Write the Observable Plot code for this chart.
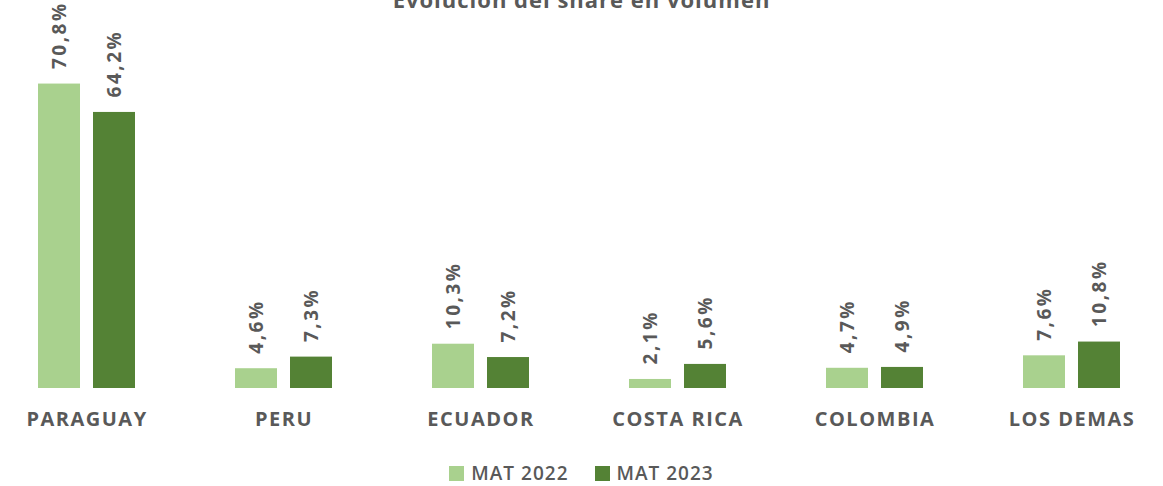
<!DOCTYPE html>
<html>
<head>
<meta charset="utf-8">
<script src="https://cdn.jsdelivr.net/npm/d3@7"></script>
<script src="https://cdn.jsdelivr.net/npm/@observablehq/plot@0.6"></script>
<style>
  html, body { margin: 0; padding: 0; background: #fff; overflow: hidden; }
  body { width: 1163px; height: 486px; position: relative; font-family: "Open Sans", sans-serif; color: #595959; }
  #title { position: absolute; top: -13px; left: 0; width: 1163px; text-align: center; font-size: 22px; font-weight: 700; line-height: 24px; color: #595959; letter-spacing: 1px; z-index: 2; }
  #chart { position: absolute; top: 0; left: 0; z-index: 1; }
  #chart g.vlabels text { letter-spacing: 2.5px; }
  #chart g.ticklabels text { letter-spacing: 1.5px; }
  #legend { position: absolute; top: 460px; left: 0; width: 1163px; text-align: center; font-size: 19px; font-weight: 600; color: #595959; letter-spacing: 1px; }
  #legend span.item { display: inline-flex; align-items: center; margin: 0 13px; }
  #legend span.sw { display: inline-block; width: 15px; height: 15px; margin-right: 7px; }
</style>
</head>
<body>
<div id="title">Evolución del share en volumen</div>
<div id="chart"></div>
<div id="legend"></div>
<script>
const countries = ["PARAGUAY", "PERU", "ECUADOR", "COSTA RICA", "COLOMBIA", "LOS DEMAS"];
const series = ["MAT 2022", "MAT 2023"];
const mat2022 = [70.8, 4.6, 10.3, 2.1, 4.7, 7.6];
const mat2023 = [64.2, 7.3, 7.2, 5.6, 4.9, 10.8];
const colors = ["#A9D18E", "#548235"];

const data = [];
countries.forEach((c, i) => {
  data.push({country: c, series: series[0], value: mat2022[i]});
  data.push({country: c, series: series[1], value: mat2023[i]});
});
const fmt = v => v.toFixed(1).replace(".", ",") + "%";

const chart = Plot.plot({
  width: 1163,
  height: 440,
  marginLeft: 0,
  marginRight: 4,
  marginTop: 44,
  marginBottom: 52,
  style: {fontFamily: "'Open Sans', sans-serif", color: "#595959", background: "transparent", overflow: "visible"},
  fx: {domain: countries, paddingInner: 0.497, paddingOuter: 0.185, label: null, axis: null},
  x: {domain: series, paddingInner: 0.23, paddingOuter: 0, axis: null},
  y: {domain: [0, 80], axis: null},
  color: {domain: series, range: colors},
  marks: [
    Plot.barY(data, {fx: "country", x: "series", y: "value", fill: "series"}),
    Plot.text(data, {fx: "country", x: "series", y: "value", text: d => fmt(d.value), rotate: -90, textAnchor: "start", dy: -15, fontSize: 19, fontWeight: 700, fill: "#595959", className: "vlabels"}),
    Plot.axisFx({anchor: "bottom", tickSize: 0, tickPadding: 23, fontSize: 20, fontWeight: 700, label: null, fill: "#595959", className: "ticklabels"})
  ]
});
document.getElementById("chart").appendChild(chart);

const legend = document.getElementById("legend");
series.forEach((s, i) => {
  const item = document.createElement("span");
  item.className = "item";
  const sw = document.createElement("span");
  sw.className = "sw";
  sw.style.background = colors[i];
  item.appendChild(sw);
  item.appendChild(document.createTextNode(s));
  legend.appendChild(item);
});
</script>
</body>
</html>
